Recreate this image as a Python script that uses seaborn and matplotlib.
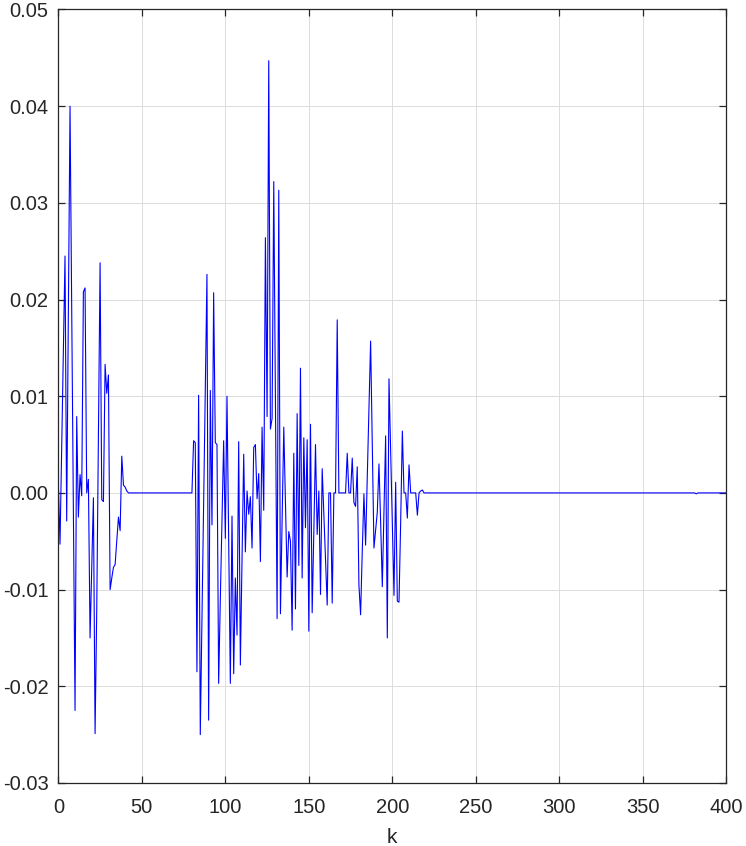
import numpy as np
import pandas as pd
import matplotlib
matplotlib.use('Agg')
import matplotlib.pyplot as plt
import seaborn as sns
from matplotlib.ticker import FormatStrFormatter

# odczytane wartości sygnału (k = 0..400)
burst1_start = 0
burst1 = [0.0010, -0.0053, 0.0046, 0.0146, 0.0245, -0.0029, 0.0185, 0.0400,
          0.0190, -0.0020, -0.0225, 0.0079, -0.0025, 0.0019, -0.0003, 0.0208,
          0.0212, 0.0000, 0.0014, -0.0150, -0.0078, -0.0005, -0.0249, -0.0120,
          0.0060, 0.0238, -0.0007, -0.0009, 0.0133, 0.0103, 0.0122, -0.0100,
          -0.0088, -0.0077, -0.0074, -0.0050, -0.0025, -0.0039, 0.0038, 0.0008,
          0.0006, 0.0002]

burst2_start = 80
burst2 = [0.0000, 0.0054, 0.0052, -0.0185, 0.0101, -0.0250, -0.0130, -0.0010,
          0.0110, 0.0226, -0.0235, 0.0106, -0.0033, 0.0207, 0.0052, 0.0050,
          -0.0197, -0.0110, -0.0030, 0.0054, -0.0047, 0.0100, -0.0050, -0.0197,
          -0.0024, -0.0187, -0.0088, -0.0147, 0.0053, -0.0178, -0.0070, 0.0040,
          -0.0061, 0.0002, -0.0022, -0.0004, -0.0057, 0.0047, 0.0050, -0.0006,
          0.0020, -0.0071, 0.0068, -0.0018, 0.0264, 0.0079, 0.0447, 0.0066,
          0.0077, 0.0322, 0.0090, -0.0130, 0.0313, -0.0125, -0.0030, 0.0068,
          -0.0010, -0.0087, -0.0040, -0.0050, -0.0142, 0.0041, -0.0120, 0.0082,
          -0.0075, 0.0129, -0.0088, 0.0057, -0.0036, 0.0055, -0.0143, 0.0071,
          -0.0124, -0.0040, 0.0050, -0.0043, 0.0002, -0.0105, 0.0025, -0.0022,
          -0.0070, -0.0116, 0.0000, 0.0000, -0.0114, 0.0000, 0.0000, 0.0179,
          0.0000, 0.0000, 0.0000, 0.0000, 0.0000, 0.0041, 0.0000, 0.0000,
          0.0036, -0.0010, -0.0014, 0.0027, -0.0095, -0.0126, -0.0060, -0.0001,
          -0.0054, 0.0016, 0.0086, 0.0157, 0.0050, -0.0057, -0.0038, -0.0020,
          0.0030, -0.0030, -0.0097, -0.0020, 0.0059, -0.0150, 0.0118, 0.0044,
          -0.0030, -0.0106, 0.0011, -0.0112, -0.0113, -0.0030, 0.0064, 0.0000,
          0.0000, -0.0026, 0.0029, 0.0000, 0.0000, 0.0000, 0.0000, -0.0023,
          0.0000, 0.0002, 0.0003, 0.0000, 0.0000]

blip_k = 382
blip_val = -0.0001

n_samples = 401
xticks = [0, 50, 100, 150, 200, 250, 300, 350, 400]
yticks = [-0.03, -0.02, -0.01, 0.00, 0.01, 0.02, 0.03, 0.04, 0.05]

# składanie sygnału: poza "wybuchami" sygnał leży na zerze
u = np.zeros(n_samples)
u[burst1_start:burst1_start + len(burst1)] = burst1
u[burst2_start:burst2_start + len(burst2)] = burst2
u[blip_k] = blip_val
df = pd.DataFrame({'k': np.arange(n_samples), 'u': u})

sns.set_theme(style='whitegrid')
plt.rcParams['font.family'] = ['Liberation Sans', 'DejaVu Sans']

fig = plt.figure(figsize=(7.46, 8.46), dpi=100)
ax = fig.add_axes([0.0782, 0.0745, 0.8954, 0.9143])

sns.lineplot(data=df, x='k', y='u', ax=ax, color='#0000ff', linewidth=0.8)

ax.set_xlim(0, 400)
ax.set_ylim(-0.03, 0.05)
ax.set_xticks(xticks)
ax.set_yticks(yticks)
ax.yaxis.set_major_formatter(FormatStrFormatter('%.2f'))
ax.set_xlabel('k', fontsize=15, color='#262626', labelpad=8)
ax.set_ylabel('')

ax.set_facecolor('white')
ax.grid(True, color='#dcdcdc', linewidth=0.7)
for s in ax.spines.values():
    s.set_visible(True)
    s.set_color('#262626')
    s.set_linewidth(0.9)
ax.tick_params(which='both', direction='in', length=5, width=0.9,
               color='#262626', labelcolor='#262626', labelsize=14.5,
               top=True, right=True, bottom=True, left=True)
ax.tick_params(axis='x', pad=11)
ax.tick_params(axis='y', pad=7)

fig.savefig('out.png', dpi=100, facecolor='white')
